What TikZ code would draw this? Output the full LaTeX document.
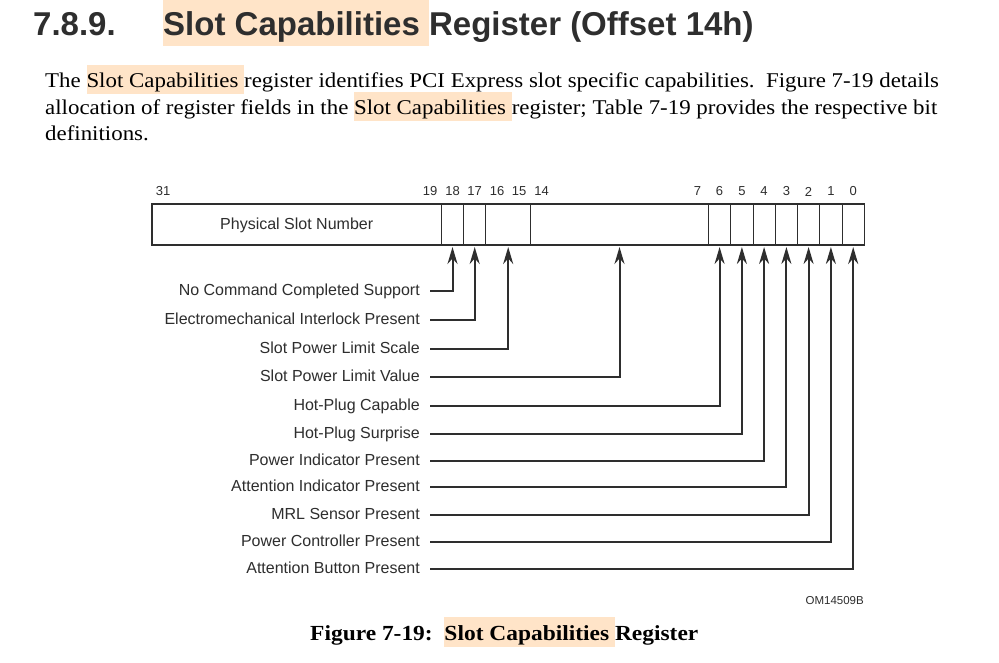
\documentclass[tikz,border=0pt]{standalone}
\usepackage{fontspec}
\setmainfont{Liberation Serif}[FakeStretch=1.09]
\newfontfamily\arial{Liberation Sans}
\usetikzlibrary{arrows.meta}
\definecolor{peach}{HTML}{FFE4C8}
\definecolor{ink}{HTML}{2E2E2E}
\newcommand\hlt[1]{{\setlength\fboxsep{0pt}\colorbox{peach}{\rule[-.32em]{0pt}{1.38em}#1}}}
\tikzset{
  field/.style={draw=ink, rectangle, minimum height=41, inner sep=0pt, outer sep=0pt, line width=.9pt, text=ink, font=\arial\fontsize{16}{18}\selectfont, text height=.97em, text depth=0pt},
  bitno/.style={text=ink, font=\arial\fontsize{13}{15}\selectfont, inner sep=0pt},
  lbl/.style={anchor=east, text=ink, font=\arial\fontsize{16}{18}\selectfont, inner xsep=10pt, inner ysep=0pt, text height=.8em, text depth=0pt},
  para/.style={anchor=base west, inner sep=0pt, text=black, font=\fontsize{21}{25}\selectfont},
  wire/.style={draw=ink, line width=2pt, ->, shorten >=2pt},
}
\begin{document}
\begin{tikzpicture}[x=1pt, y=-1pt, >={Stealth[length=17pt,width=10pt]}]
\useasboundingbox[fill=white] (0,0) rectangle (999,662);
\node[anchor=base west, inner sep=0pt, text=ink, font=\arial\bfseries\fontsize{33}{37}\selectfont] (secno) at (33,35) {7.8.9.};
\node[anchor=base west, inner sep=0pt, text=ink, font=\arial\bfseries\fontsize{33}{37}\selectfont] (title) at (163,35) {\hlt{Slot Capabilities }Register (Offset 14h)};
\node[para] (p1) at (45,87) {The \hlt{Slot Capabilities }register identifies PCI Express slot specific capabilities.\ \ Figure 7-19 details};
\node[para] (p2) at (45,114.5) {allocation of register fields in the \hlt{Slot Capabilities }register; Table 7-19 provides the respective bit};
\node[para] (p3) at (45,140.5) {definitions.};
\node[field, minimum width=289.4] (f31) at (296.7,224.5) {Physical Slot Number};
\node[field, minimum width=22.26] (f18) at (452.5,224.5) {};
\node[field, minimum width=22.26] (f17) at (474.7,224.5) {};
\node[field, minimum width=44.52] (f16) at (508.2,224.5) {};
\node[field, minimum width=178.1] (f14) at (619.5,224.5) {};
\node[field, minimum width=22.26] (b6) at (719.6,224.5) {};
\node[field, minimum width=22.26] (b5) at (741.9,224.5) {};
\node[field, minimum width=22.26] (b4) at (764.1,224.5) {};
\node[field, minimum width=22.26] (b3) at (786.4,224.5) {};
\node[field, minimum width=22.26] (b2) at (808.6,224.5) {};
\node[field, minimum width=22.26] (b1) at (830.9,224.5) {};
\node[field, minimum width=22.26] (b0) at (853.2,224.5) {};
\draw[ink, line width=1.6pt] (f31.north west) rectangle (b0.south east);
\node[bitno] (n31) at (163.1,191.5) {31};
\node[bitno] (n19) at (430.2,191.5) {19};
\node[bitno] (n18) at (452.5,191.5) {18};
\node[bitno] (n17) at (474.7,191.5) {17};
\node[bitno] (n16) at (497,191.5) {16};
\node[bitno] (n15) at (519.2,191.5) {15};
\node[bitno] (n14) at (541.5,191.5) {14};
\node[bitno] (n7) at (697.4,191.5) {7};
\node[bitno] (n6) at (719.6,191.5) {6};
\node[bitno] (n5) at (741.9,191.5) {5};
\node[bitno] (n4) at (764.1,191.5) {4};
\node[bitno] (n3) at (786.4,191.5) {3};
\node[bitno] (n2) at (808.6,191.5) {2};
\node[bitno] (n1) at (830.9,191.5) {1};
\node[bitno] (n0) at (853.2,191.5) {0};
\node[lbl] (ncc) at (430,291) {No Command Completed Support};
\node[lbl] (emi) at (430,320) {Electromechanical Interlock Present};
\node[lbl] (spls) at (430,349) {Slot Power Limit Scale};
\node[lbl] (splv) at (430,377) {Slot Power Limit Value};
\node[lbl] (hpc) at (430,406) {Hot-Plug Capable};
\node[lbl] (hps) at (430,434) {Hot-Plug Surprise};
\node[lbl] (pip) at (430,461) {Power Indicator Present};
\node[lbl] (aip) at (430,487) {Attention Indicator Present};
\node[lbl] (mrl) at (430,515) {MRL Sensor Present};
\node[lbl] (pcp) at (430,542) {Power Controller Present};
\node[lbl] (abp) at (430,569) {Attention Button Present};
\draw[wire] (ncc.east) -| (f18.south);
\draw[wire] (emi.east) -| (f17.south);
\draw[wire] (spls.east) -| (f16.south);
\draw[wire] (splv.east) -| (f14.south);
\draw[wire] (hpc.east) -| (b6.south);
\draw[wire] (hps.east) -| (b5.south);
\draw[wire] (pip.east) -| (b4.south);
\draw[wire] (aip.east) -| (b3.south);
\draw[wire] (mrl.east) -| (b2.south);
\draw[wire] (pcp.east) -| (b1.south);
\draw[wire] (abp.east) -| (b0.south);
\node[anchor=base east, inner sep=0pt, text=ink, font=\arial\fontsize{11.5}{13}\selectfont] (om) at (864,604) {OM14509B};
\node[anchor=base west, inner sep=0pt, text=black, font=\bfseries\fontsize{21.5}{25}\selectfont] (cap) at (310,640) {Figure 7-19:\ \ \hlt{Slot Capabilities }Register};
\end{tikzpicture}
\end{document}
